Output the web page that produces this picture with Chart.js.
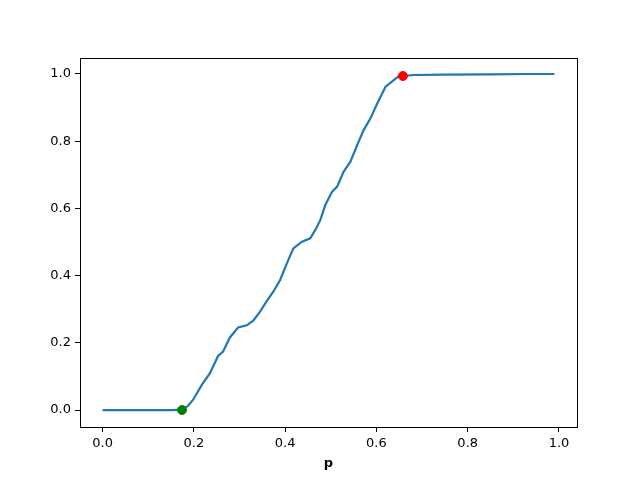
<!DOCTYPE html>
<html>
<head>
<meta charset="utf-8">
<script src="https://cdn.jsdelivr.net/npm/chart.js@4/dist/chart.umd.min.js"></script>
<style>
  html, body { margin: 0; padding: 0; background: #fff; }
  #wrap { width: 640px; height: 480px; }
</style>
</head>
<body>
<div id="wrap"><canvas id="chart" width="640" height="480"></canvas></div>
<script>
// Curve values
const pValues = [0.0, 0.05, 0.10, 0.15, 0.174, 0.187, 0.198, 0.217, 0.235, 0.253, 0.264, 0.279,
    0.297, 0.316, 0.330, 0.345, 0.360, 0.374, 0.389, 0.404, 0.418, 0.437, 0.455, 0.466,
    0.477, 0.488, 0.503, 0.514, 0.528, 0.543, 0.558, 0.572, 0.587, 0.602, 0.620, 0.638,
    0.649, 0.658, 0.681, 0.75, 0.85, 0.93, 0.99];
const probValues = [0.0, 0.0, 0.0, 0.0, 0.001, 0.012, 0.030, 0.074, 0.109, 0.161, 0.174, 0.216,
    0.246, 0.252, 0.266, 0.293, 0.325, 0.352, 0.387, 0.437, 0.481, 0.501, 0.511, 0.536,
    0.565, 0.610, 0.650, 0.665, 0.709, 0.739, 0.789, 0.833, 0.868, 0.913, 0.962, 0.982,
    0.994, 0.994, 0.997, 0.998, 0.999, 1.0, 1.0];

// Marked points
const startPoint = { p: 0.174, v: 0.0 };
const endPoint = { p: 0.658, v: 0.994 };

// Tick labels
const xTicks = [0.0, 0.2, 0.4, 0.6, 0.8, 1.0];
const yTicks = [0.0, 0.2, 0.4, 0.6, 0.8, 1.0];

const font = { family: "'DejaVu Sans', sans-serif", size: 13 };

// Full frame around the plot area
const frame = {
    id: 'frame',
    afterDraw(chart) {
        const a = chart.chartArea, ctx = chart.ctx;
        ctx.save();
        ctx.strokeStyle = '#000';
        ctx.lineWidth = 1;
        ctx.strokeRect(Math.round(a.left) + 0.5, Math.round(a.top) + 0.5,
            Math.round(a.right - a.left), Math.round(a.bottom - a.top));
        ctx.restore();
    }
};

new Chart(document.getElementById('chart'), {
    type: 'line',
    data: {
        datasets: [
            {
                data: pValues.map((p, i) => ({ x: p, y: probValues[i] })),
                borderColor: '#1f77b4',
                borderWidth: 2.2,
                pointRadius: 0,
                tension: 0,
                order: 2
            },
            {
                data: [{ x: startPoint.p, y: startPoint.v }],
                showLine: false,
                pointRadius: 4.5,
                pointBackgroundColor: 'green',
                pointBorderColor: 'green',
                order: 1
            },
            {
                data: [{ x: endPoint.p, y: endPoint.v }],
                showLine: false,
                pointRadius: 4.5,
                pointBackgroundColor: 'red',
                pointBorderColor: 'red',
                order: 1
            }
        ]
    },
    options: {
        responsive: false,
        animation: false,
        layout: { padding: { top: 58, right: 63, left: 0, bottom: 0 } },
        plugins: {
            legend: { display: false },
            tooltip: { enabled: false }
        },
        scales: {
            x: {
                type: 'linear',
                min: -0.0495,
                max: 1.0395,
                afterBuildTicks: s => { s.ticks = xTicks.map(v => ({ value: v })); },
                afterFit: s => { s.height = 53; },
                grid: { display: true, drawOnChartArea: false, drawTicks: true, tickLength: 5, color: '#000' },
                border: { display: true, color: '#000' },
                ticks: {
                    color: '#000', font: font, padding: 4, maxRotation: 0,
                    callback: v => Number(v).toFixed(1)
                },
                title: {
                    display: true, text: 'p', color: '#000',
                    font: { family: font.family, size: 13, weight: 'bold' },
                    padding: { top: 2, bottom: 9 }
                }
            },
            y: {
                min: -0.0505,
                max: 1.0476,
                afterBuildTicks: s => { s.ticks = yTicks.map(v => ({ value: v })); },
                afterFit: s => { s.width = 80; },
                grid: { display: true, drawOnChartArea: false, drawTicks: true, tickLength: 5, color: '#000' },
                border: { display: true, color: '#000' },
                ticks: {
                    color: '#000', font: font, padding: 4,
                    callback: v => Number(v).toFixed(1)
                }
            }
        }
    },
    plugins: [frame]
});
</script>
</body>
</html>
